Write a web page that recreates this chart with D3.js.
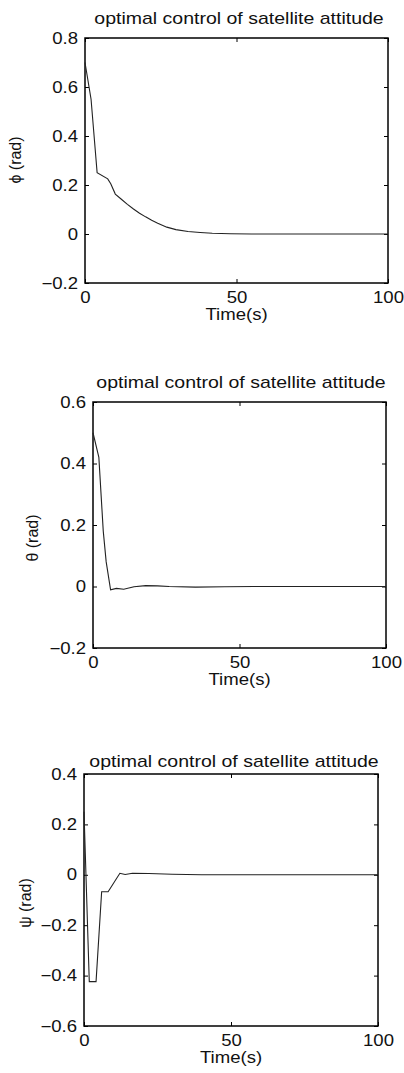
<!DOCTYPE html>
<html lang="en">
<head>
<meta charset="UTF-8">
<title>optimal control of satellite attitude</title>
<script src="https://d3js.org/d3.v7.min.js"></script>
<style>
  body { margin: 0; background: #fff; }
  svg text { font-family: "Liberation Sans", Arial, Helvetica, sans-serif; fill: #111; }
  .curve { fill: none; stroke: #222; stroke-width: 1.1; }
  .frame { fill: none; stroke: #000; stroke-width: 1.5; }
</style>
</head>
<body>
<svg id="chart" width="404" height="1073"></svg>
<script>
// time (s) and attitude angles (rad)
const phiTime = [0, 2, 4, 7.5, 8.5, 10, 12, 14, 16, 18, 20, 22, 24, 27, 30, 34, 38, 42, 48, 55, 100];
const phiValues = [0.70, 0.55, 0.25, 0.225, 0.205, 0.163, 0.142, 0.121, 0.102, 0.085, 0.070, 0.056, 0.044, 0.028, 0.018, 0.010, 0.006, 0.003, 0.001, 0, 0];

const thetaTime = [0, 2, 3.5, 4.5, 6, 8, 10.5, 14, 18, 22, 26, 35, 45, 55, 100];
const thetaValues = [0.50, 0.42, 0.18, 0.08, -0.011, -0.006, -0.009, -0.001, 0.003, 0.002, 0, -0.002, -0.001, 0, 0];

const psiTime = [0, 1.8, 4.1, 6, 8.2, 12.2, 14, 16.5, 22, 30, 40, 100];
const psiValues = [0.25, -0.424, -0.424, -0.067, -0.067, 0.006, 0.001, 0.006, 0.005, 0.002, 0, 0];

const xTicks = [0, 50, 100];
const phiTicks = [-0.2, 0, 0.2, 0.4, 0.6, 0.8];
const thetaTicks = [-0.2, 0, 0.2, 0.4, 0.6];
const psiTicks = [-0.6, -0.4, -0.2, 0, 0.2, 0.4];

const titleText = "optimal control of satellite attitude";
const xLabel = "Time(s)";

// layout of the three stacked panels (pixels)
const panels = [
  { name: "ϕ (rad)", t: phiTime, v: phiValues, ticks: phiTicks,
    left: 85, right: 388, top: 38, bottom: 283, titleX: 239, titleY: 24, labelX: 21, labelY: 160 },
  { name: "θ (rad)", t: thetaTime, v: thetaValues, ticks: thetaTicks,
    left: 93, right: 386, top: 402, bottom: 648, titleX: 241, titleY: 388, labelX: 38, labelY: 538 },
  { name: "ψ (rad)", t: psiTime, v: psiValues, ticks: psiTicks,
    left: 84, right: 378, top: 774, bottom: 1026, titleX: 234, titleY: 767, labelX: 31, labelY: 903 }
];

const svg = d3.select("#chart");
const stretch = 1.16;   // glyphs in the source are a little wide
const fmt = d => d === 0 ? "0" : d3.format(".1f")(d);

panels.forEach(p => {
  const x = d3.scaleLinear().domain([0, 100]).range([p.left, p.right]);
  const y = d3.scaleLinear().domain(d3.extent(p.ticks)).range([p.bottom, p.top]);
  const g = svg.append("g");

  // bottom axis with labels, ticks pointing inwards
  g.append("g")
    .attr("transform", `translate(0,${p.bottom})`)
    .call(d3.axisBottom(x).tickValues(xTicks).tickFormat(d3.format("d")).tickSize(-4).tickPadding(9))
    .call(a => a.select(".domain").remove());

  // mirrored top ticks
  g.append("g")
    .attr("transform", `translate(0,${p.top})`)
    .call(d3.axisTop(x).tickValues(xTicks).tickFormat("").tickSize(-4))
    .call(a => a.select(".domain").remove());

  g.append("g")
    .attr("transform", `translate(${p.left},0)`)
    .call(d3.axisLeft(y).tickValues(p.ticks).tickFormat(fmt).tickSize(-4).tickPadding(6))
    .call(a => a.select(".domain").remove());

  g.append("g")
    .attr("transform", `translate(${p.right},0)`)
    .call(d3.axisRight(y).tickValues(p.ticks).tickFormat("").tickSize(-4))
    .call(a => a.select(".domain").remove());

  g.selectAll(".tick line").attr("stroke", "#000");
  g.selectAll(".tick text")
    .attr("font-size", 16)
    .attr("font-family", null)
    .attr("transform", `scale(${stretch},1)`);

  g.append("rect")
    .attr("class", "frame")
    .attr("x", p.left).attr("y", p.top)
    .attr("width", p.right - p.left).attr("height", p.bottom - p.top);

  const line = d3.line().x((d, i) => x(p.t[i])).y(d => y(d));
  g.append("path").attr("class", "curve").attr("d", line(p.v));

  g.append("text")
    .attr("transform", `translate(${p.titleX},${p.titleY}) scale(1.22,1)`)
    .attr("text-anchor", "middle")
    .attr("font-size", 16)
    .text(titleText);

  g.append("text")
    .attr("transform", `translate(${(p.left + p.right) / 2},${p.bottom + 37}) scale(${stretch},1)`)
    .attr("text-anchor", "middle")
    .attr("font-size", 16)
    .text(xLabel);

  g.append("text")
    .attr("transform", `translate(${p.labelX},${p.labelY}) rotate(-90)`)
    .attr("text-anchor", "middle")
    .attr("font-size", 16)
    .text(p.name);
});
</script>
</body>
</html>
